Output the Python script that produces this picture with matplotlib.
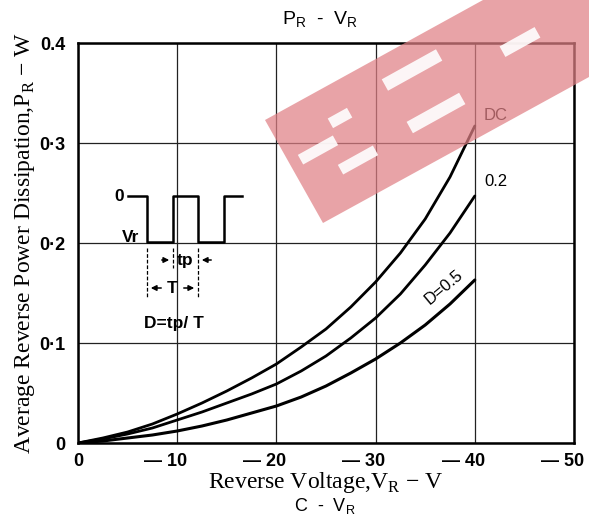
import numpy as np
import matplotlib
matplotlib.use("Agg")
import matplotlib.pyplot as plt
from matplotlib.patches import Polygon
from matplotlib.transforms import ScaledTranslation

# ---- datos ----
vr = [0, -2.5, -5, -7.5, -10, -12.5, -15, -17.5, -20, -22.5, -25, -27.5, -30, -32.5, -35, -37.5, -40]
p_dc = [0, 0.005, 0.011, 0.019, 0.029, 0.040, 0.052, 0.065, 0.079, 0.096, 0.114, 0.136, 0.161, 0.190, 0.224, 0.266, 0.317]
p_02 = [0, 0.004, 0.009, 0.015, 0.023, 0.031, 0.040, 0.049, 0.059, 0.072, 0.087, 0.105, 0.125, 0.149, 0.178, 0.210, 0.247]
p_05 = [0, 0.002, 0.005, 0.008, 0.012, 0.017, 0.023, 0.030, 0.037, 0.046, 0.057, 0.070, 0.084, 0.100, 0.118, 0.139, 0.163]

x_ticks = [0, -10, -20, -30, -40, -50]
x_labels = ["0", "\u2014 10", "\u2014 20", "\u2014 30", "\u2014 40", "\u2014 50"]
y_ticks = [0, 0.1, 0.2, 0.3, 0.4]
y_labels = ["0", "0\u00b71", "0\u00b72", "0\u00b73", "0.4"]

W, H = 589, 517
fig = plt.figure(figsize=(W / 100, H / 100), dpi=100)
ax = fig.add_axes([78 / W, 1 - 443 / H, 496 / W, 400 / H])

ax.plot(vr, p_dc, color="black", lw=2.0, solid_capstyle="round")
ax.plot(vr, p_02, color="black", lw=2.0, solid_capstyle="round")
ax.plot(vr, p_05, color="black", lw=2.2, solid_capstyle="round")

ax.set_xlim(0, -50)
ax.set_ylim(0, 0.4)
ax.set_xticks(x_ticks)
ax.set_xticklabels(x_labels)
ax.set_yticks(y_ticks)
ax.set_yticklabels(y_labels)
ax.tick_params(length=0)
ax.tick_params(axis="y", pad=9)
ax.tick_params(axis="x", pad=7)
for lab in ax.get_xticklabels() + ax.get_yticklabels():
    lab.set_fontfamily("Liberation Sans")
    lab.set_fontweight("bold")
    lab.set_fontsize(13)
# los numeros quedan centrados en la linea, el guion a la izquierda
for lab in ax.get_xticklabels():
    off = 5 if lab.get_text() == "0" else 10
    lab.set_horizontalalignment("right")
    lab.set_transform(lab.get_transform() + ScaledTranslation(off / 100, 0, fig.dpi_scale_trans))
ax.grid(True, color="#222222", lw=0.9)
for s in ax.spines.values():
    s.set_linewidth(1.8)

serif = "Liberation Serif"
ax.set_ylabel("Average Reverse Power Dissipation,P$_\\mathregular{R}$ \u2212 W",
              fontfamily=serif, fontsize=17, labelpad=2)
ax.set_xlabel("Reverse Voltage,V$_\\mathregular{R}$ \u2212 V",
              fontfamily=serif, fontsize=17, labelpad=0)

fig.text(320 / W, 1 - 20 / H, "P$_\\mathregular{R}$  -  V$_\\mathregular{R}$",
         fontfamily="Liberation Sans", fontsize=14, ha="center", va="center")
fig.text(325 / W, 1 - 506 / H, "C  -  V$_\\mathregular{R}$",
         fontfamily="Liberation Sans", fontsize=13, ha="center", va="center")

# etiquetas de curvas
ax.text(-40.9, 0.327, "DC", fontfamily="Liberation Sans", fontsize=12, ha="left", va="center")
ax.text(-41.0, 0.262, "0.2", fontfamily="Liberation Sans", fontsize=12, ha="left", va="center")
ax.text(-36.9, 0.156, "D=0.5", fontfamily="Liberation Sans", fontsize=12, ha="center",
        va="center", rotation=40)

# forma de onda (inset)
def fx(px):
    return (px - 78) / 496

def fy(py):
    return (443 - py) / 400

tr = ax.transAxes
wx = [128, 147, 147, 173, 173, 198, 198, 224, 224, 242]
wy = [196, 196, 242, 242, 196, 196, 242, 242, 196, 196]
ax.plot([fx(v) for v in wx], [fy(v) for v in wy], transform=tr, color="black", lw=1.8)
for px, y2 in [(147, 298), (173, 268), (198, 298)]:
    ax.plot([fx(px), fx(px)], [fy(248), fy(y2)], transform=tr, color="black", lw=0.9, ls=(0, (3, 1.5)))
kw = dict(transform=tr, fontfamily="Liberation Sans", fontweight="bold", fontsize=12.5,
          ha="center", va="center")
ax.text(fx(119), fy(196), "0", **kw)
ax.text(fx(131), fy(237), "Vr", **kw)
ax.text(fx(185), fy(260), "tp", **kw)
ax.text(fx(172), fy(288), "T", **kw)
ax.text(fx(174), fy(323), "D=tp/ T", **kw)
arr = dict(arrowstyle="-|>", color="black", lw=1.1, mutation_scale=8)
ax.annotate("", xy=(fx(172), fy(260)), xytext=(fx(159), fy(260)), xycoords=tr, arrowprops=arr)
ax.annotate("", xy=(fx(199), fy(260)), xytext=(fx(214), fy(260)), xycoords=tr, arrowprops=arr)
ax.annotate("", xy=(fx(148), fy(288)), xytext=(fx(164), fy(288)), xycoords=tr, arrowprops=arr)
ax.annotate("", xy=(fx(197), fy(288)), xytext=(fx(181), fy(288)), xycoords=tr, arrowprops=arr)

# marca de agua
def fp(pts):
    return [(x / W, 1 - y / H) for x, y in pts]

band = [(265, 120), (483, 0), (589, 0), (589, 77), (323, 223)]
fig.patches.append(Polygon(fp(band), closed=True, transform=fig.transFigure,
                           facecolor=(224 / 255, 128 / 255, 133 / 255), alpha=0.72,
                           edgecolor="none", zorder=10))
u = np.array([0.875, -0.485])
n = np.array([0.485, 0.875])
bars = [((318, 150), 40, 11), ((340, 118), 22, 11), ((358, 160), 40, 11),
        ((412, 70), 62, 13), ((436, 113), 60, 13), ((520, 42), 40, 12)]
for (cx, cy), ln, th in bars:
    c = np.array([cx, cy])
    pts = [c - u * ln / 2 - n * th / 2, c + u * ln / 2 - n * th / 2,
           c + u * ln / 2 + n * th / 2, c - u * ln / 2 + n * th / 2]
    fig.patches.append(Polygon(fp(pts), closed=True, transform=fig.transFigure,
                               facecolor="white", alpha=0.9, edgecolor="none", zorder=11))

fig.savefig("out.png", dpi=100)
